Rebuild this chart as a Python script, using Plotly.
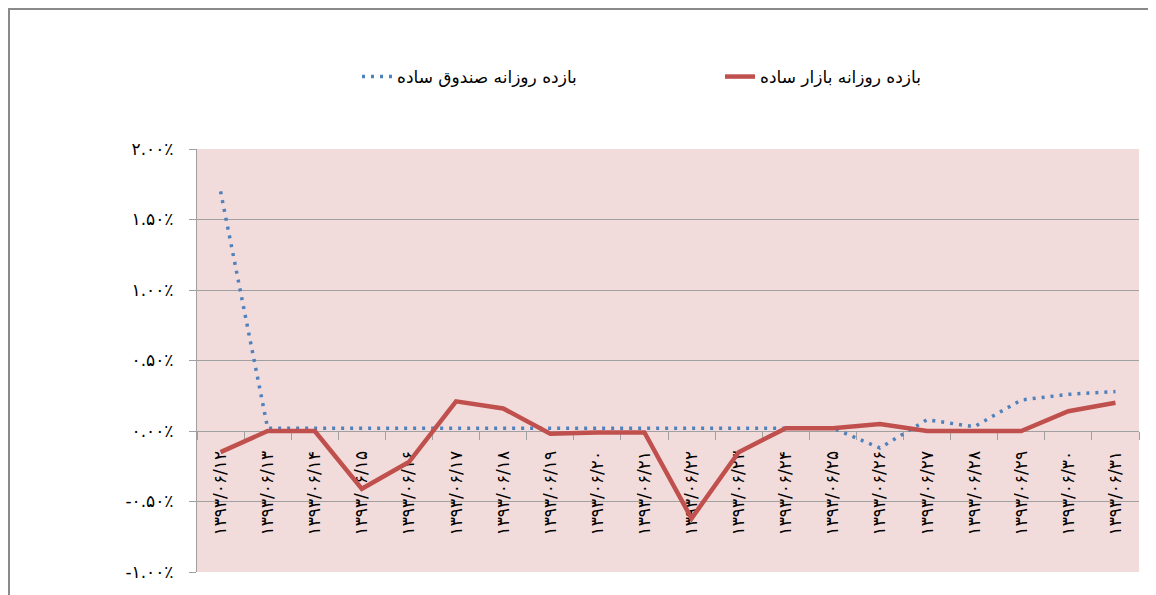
import plotly.graph_objects as go

categories = ["۱۳۹۳/۰۶/۱۲", "۱۳۹۳/۰۶/۱۳", "۱۳۹۳/۰۶/۱۴", "۱۳۹۳/۰۶/۱۵", "۱۳۹۳/۰۶/۱۶",
              "۱۳۹۳/۰۶/۱۷", "۱۳۹۳/۰۶/۱۸", "۱۳۹۳/۰۶/۱۹", "۱۳۹۳/۰۶/۲۰", "۱۳۹۳/۰۶/۲۱",
              "۱۳۹۳/۰۶/۲۲", "۱۳۹۳/۰۶/۲۳", "۱۳۹۳/۰۶/۲۴", "۱۳۹۳/۰۶/۲۵", "۱۳۹۳/۰۶/۲۶",
              "۱۳۹۳/۰۶/۲۷", "۱۳۹۳/۰۶/۲۸", "۱۳۹۳/۰۶/۲۹", "۱۳۹۳/۰۶/۳۰", "۱۳۹۳/۰۶/۳۱"]

# daily return, in percent
market_return = [-0.15, 0.00, 0.00, -0.41, -0.22, 0.21, 0.16, -0.02, -0.01, -0.01,
                 -0.62, -0.15, 0.02, 0.02, 0.05, 0.00, 0.00, 0.00, 0.14, 0.20]
fund_return = [1.70, 0.02, 0.02, 0.02, 0.02, 0.02, 0.02, 0.02, 0.02, 0.02,
               0.02, 0.02, 0.02, 0.02, -0.12, 0.08, 0.03, 0.22, 0.26, 0.28]

market_name = "بازده روزانه بازار ساده"
fund_name = "بازده روزانه صندوق ساده"

y_tickvals = [-1.0, -0.5, 0.0, 0.5, 1.0, 1.5, 2.0]
y_ticktext = ["-۱.۰۰٪", "-۰.۵۰٪", "۰.۰۰٪", "۰.۵۰٪", "۱.۰۰٪", "۱.۵۰٪", "۲.۰۰٪"]

OFF = 8  # page body margin
W, H = 1156, 595
# plot area in page pixels: x 197..1139, y 149..572
L, R, T, B = 197 - OFF, W - (1139 - OFF), 149 - OFF, H - (572 - OFF)
pw, ph = W - L - R, H - T - B

def px_x(p):  # page pixel -> paper fraction
    return (p - OFF - L) / pw

def px_y(p):
    return (H - B - (p - OFF)) / ph

FONT = "DejaVu Sans"

fig = go.Figure()
fig.add_trace(go.Scatter(
    x=categories, y=fund_return, mode="lines", name=fund_name,
    line=dict(color="#4F81BD", width=3.5, dash="3px,6px"),
    legend="legend",
))
fig.add_trace(go.Scatter(
    x=categories, y=market_return, mode="lines", name=market_name,
    line=dict(color="#C0504D", width=4.5),
    legend="legend2",
))

fig.update_layout(
    width=W, height=H,
    margin=dict(l=L, r=R, t=T, b=B, autoexpand=False),
    paper_bgcolor="white",
    plot_bgcolor="#F2DCDB",
    font=dict(family=FONT, color="black", size=14),
    showlegend=True,
    legend=dict(x=px_x(357), y=px_y(77), xanchor="left", yanchor="middle",
                orientation="h", font=dict(size=17, family=FONT),
                bgcolor="rgba(0,0,0,0)"),
    legend2=dict(x=px_x(720), y=px_y(77), xanchor="left", yanchor="middle",
                 orientation="h", font=dict(size=17, family=FONT),
                 bgcolor="rgba(0,0,0,0)"),
    xaxis=dict(
        type="category",
        anchor="free", position=1/3,
        showline=True, linecolor="#A0A0A0", linewidth=1.3,
        ticks="outside", ticklen=8, tickcolor="#A0A0A0", tickwidth=1.3,
        tickson="boundaries",
        showgrid=False, zeroline=False,
        tickangle=-90,
        tickfont=dict(size=17, family=FONT, color="black"),
        ticklabelstandoff=12,
        layer="below traces",
        range=[-0.5, len(categories) - 0.5],
        automargin=False,
    ),
    yaxis=dict(
        range=[-1.0, 2.0],
        tickvals=y_tickvals, ticktext=y_ticktext,
        showgrid=True, gridcolor="#A0A0A0", gridwidth=1.3,
        zeroline=False,
        showline=True, linecolor="#A0A0A0", linewidth=1.3,
        ticks="outside", ticklen=7, tickcolor="#A0A0A0", tickwidth=1.3,
        tickfont=dict(size=17, family=FONT, color="black"),
        ticklabelstandoff=12,
        layer="below traces",
        automargin=False,
    ),
    shapes=[dict(type="rect", xref="paper", yref="paper",
                 x0=px_x(9), x1=px_x(1180), y0=px_y(620), y1=px_y(9),
                 line=dict(color="#8A8A8A", width=2), fillcolor="rgba(0,0,0,0)",
                 layer="below")],
)

fig.write_html("out.html")
